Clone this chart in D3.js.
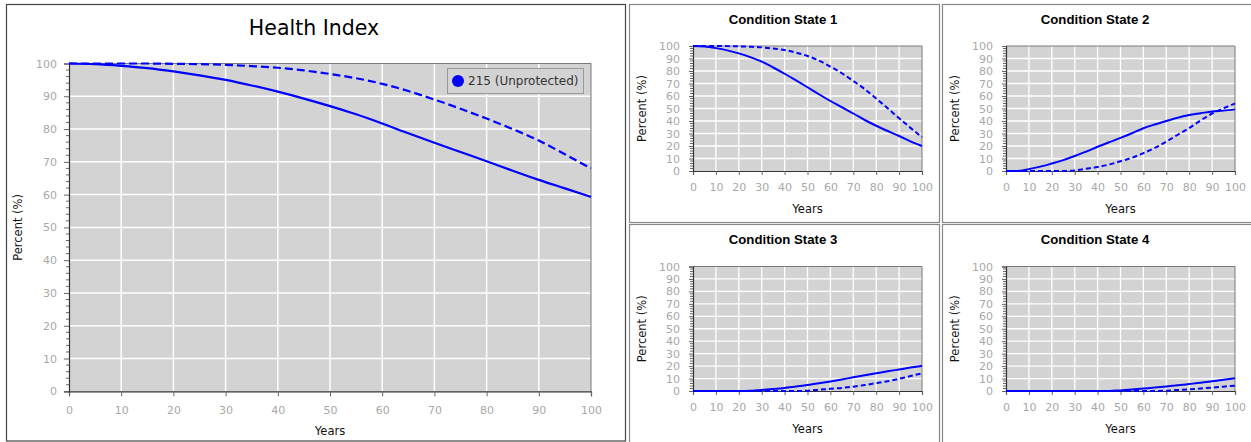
<!DOCTYPE html>
<html>
<head>
<meta charset="utf-8">
<script src="https://cdn.jsdelivr.net/npm/d3@7"></script>
<style>
html,body{margin:0;padding:0;background:#fff;}
svg{display:block;}
text{font-family:"DejaVu Sans",Verdana,sans-serif;}
</style>
</head>
<body>
<svg id="chart" width="1251" height="442"></svg>
<script>
// ---------- data ----------
const years = [0,5,10,15,20,25,30,35,40,45,50,55,60,65,70,75,80,85,90,95,100];
const xTicks = [0,10,20,30,40,50,60,70,80,90,100];
const yTicks = [0,10,20,30,40,50,60,70,80,90,100];
const legendLabel = "215 (Unprotected)";

const hiSolid  = [100,99.8,99.3,98.6,97.6,96.4,95.0,93.3,91.4,89.3,87.0,84.5,81.7,78.7,75.8,73.0,70.2,67.3,64.5,61.9,59.3];
const hiDashed = [100,100,100,100,99.9,99.8,99.6,99.2,98.7,97.9,96.8,95.5,93.8,91.6,89.0,86.2,83.2,80.0,76.5,72.3,68.0];

const cs1Solid  = [100,99.6,98.3,96.5,94.1,91.1,87.5,82.8,77.8,72.5,67.0,61.4,56.0,51.0,46.0,40.8,36.2,32.0,28.0,23.7,20.0];
const cs1Dashed = [100,100,100,99.9,99.7,99.4,98.9,98.0,96.8,94.7,92.0,88.3,83.5,78.2,72.0,65.5,58.0,50.2,42.2,34.5,27.0];

const cs2Solid  = [0,0,1.5,3.5,6.0,8.7,12.0,15.5,19.4,23.0,26.5,30.2,34.2,37.2,40.0,42.6,44.8,46.2,47.6,48.3,49.3];
const cs2Dashed = [0,0,0,0,0,0,0.5,1.8,3.2,5.2,7.8,10.6,14.3,18.5,23.5,29.0,34.3,40.5,46.0,50.2,54.0];

const cs3Solid  = [0,0,0,0,0,0.2,0.8,1.6,2.5,3.6,4.8,6.2,7.7,9.3,11.0,12.6,14.2,15.8,17.3,18.8,20.2];
const cs3Dashed = [0,0,0,0,0,0,0,0,0,0,0.3,1.0,1.8,2.5,3.5,4.8,6.3,7.8,9.8,12.0,14.2];

const cs4Solid  = [0,0,0,0,0,0,0,0,0,0,0.5,1.2,2.0,2.8,3.7,4.6,5.6,6.6,7.8,9.0,10.3];
const cs4Dashed = [0,0,0,0,0,0,0,0,0,0,0,0,0,0,0.3,0.8,1.3,2.0,2.7,3.5,4.3];

// ---------- drawing ----------
const svg = d3.select("#chart");
const BLUE = "#0000ff";

function panelBox(x0,y0,x1,y1,color){
  svg.append("rect").attr("x",x0).attr("y",y0).attr("width",x1-x0).attr("height",y1-y0)
    .attr("fill","#fff").attr("stroke",color).attr("stroke-width",1.2);
}

function drawChart(opt){
  const g = svg.append("g");
  const x = d3.scaleLinear().domain([0,100]).range([opt.x0,opt.x1]);
  const y = d3.scaleLinear().domain([0,100]).range([opt.y1,opt.y0]);
  g.append("rect").attr("x",opt.x0).attr("y",opt.y0).attr("width",opt.x1-opt.x0).attr("height",opt.y1-opt.y0)
    .attr("fill","#d3d3d3");
  g.append("g").selectAll("line").data(xTicks.slice(1,-1)).join("line")
    .attr("x1",d=>x(d)).attr("x2",d=>x(d)).attr("y1",opt.y0).attr("y2",opt.y1)
    .attr("stroke","#fff").attr("stroke-width",opt.gw);
  g.append("g").selectAll("line").data(yTicks.slice(1,-1)).join("line")
    .attr("y1",d=>y(d)).attr("y2",d=>y(d)).attr("x1",opt.x0).attr("x2",opt.x1)
    .attr("stroke","#fff").attr("stroke-width",opt.gw);
  g.append("path").attr("d",`M${opt.x0},${opt.y0}H${opt.x1}V${opt.y1}`)
    .attr("fill","none").attr("stroke","#7a7a7a").attr("stroke-width",1);
  const xa = g.append("g").attr("transform",`translate(0,${opt.y1})`)
    .call(d3.axisBottom(x).tickValues(xTicks).tickSize(opt.tick).tickPadding(opt.xpad).tickFormat(d3.format("d")));
  const ya = g.append("g").attr("transform",`translate(${opt.x0},0)`)
    .call(d3.axisLeft(y).tickValues(yTicks).tickSize(opt.tick).tickPadding(opt.ypad).tickFormat(d3.format("d")));
  g.append("g").selectAll("line").data(d3.range(0,101,2).filter(v=>v%10!==0)).join("line")
    .attr("x1",opt.x0-3).attr("x2",opt.x0).attr("y1",d=>y(d)).attr("y2",d=>y(d))
    .attr("stroke","#666").attr("stroke-width",1);
  [xa,ya].forEach(a=>{
    a.select(".domain").attr("stroke","#333").attr("stroke-width",1.2);
    a.selectAll(".tick line").attr("stroke","#666");
    a.selectAll(".tick text").attr("fill","#a8a8a8").style("font-size",opt.fs+"px")
      .style("font-family","'DejaVu Sans',Verdana,sans-serif");
  });
  const line = d3.line().x((d,i)=>x(years[i])).y(d=>y(d)).curve(d3.curveMonotoneX);
  g.append("path").datum(opt.solid).attr("d",line).attr("fill","none")
    .attr("stroke",BLUE).attr("stroke-width",opt.lw).attr("stroke-linejoin","round");
  g.append("path").datum(opt.dashed).attr("d",line).attr("fill","none")
    .attr("stroke",BLUE).attr("stroke-width",opt.lw).attr("stroke-dasharray",opt.dash);
  g.append("text").attr("x",opt.tx).attr("y",opt.ty).attr("text-anchor","middle")
    .style("font-size",opt.tfs+"px").style("font-weight",opt.tbold?"bold":"normal")
    .style("font-family",opt.tfont).attr("fill","#000").text(opt.title);
  g.append("text").attr("x",(opt.x0+opt.x1)/2).attr("y",opt.y1+opt.yearsDy).attr("text-anchor","middle")
    .style("font-size",opt.lfs+"px").attr("fill","#111").text("Years");
  g.append("text").attr("transform",`translate(${opt.px},${(opt.y0+opt.y1)/2}) rotate(-90)`)
    .attr("text-anchor","middle").attr("dy","0.35em")
    .style("font-size",opt.lfs+"px").attr("fill","#111").text("Percent (%)");
  return {g,x,y};
}

panelBox(6.5,4.5,625.5,441,"#444");
panelBox(629.5,4.5,939.5,222.5,"#888");
panelBox(942.5,4.5,1252,222.5,"#888");
panelBox(629.5,224.5,939.5,444,"#888");
panelBox(942.5,224.5,1252,444,"#888");

const main = drawChart({x0:69,x1:591,y0:63.5,y1:391.3,gw:1.5,tick:5,xpad:10,ypad:7,fs:11,lw:2.2,dash:"8,4",
  solid:hiSolid,dashed:hiDashed,title:"Health Index",tx:314,ty:35,tfs:20.5,tbold:false,
  tfont:"'DejaVu Sans',Verdana,sans-serif",lfs:11.5,yearsDy:44,px:18});

const lg = main.g.append("g");
lg.append("rect").attr("x",447.5).attr("y",68.5).attr("width",136).attr("height",25)
  .attr("fill","#d3d3d3").attr("stroke","#999").attr("stroke-width",1);
lg.append("circle").attr("cx",458).attr("cy",81).attr("r",6).attr("fill",BLUE);
lg.append("text").attr("x",468).attr("y",81).attr("dy","0.36em").style("font-size","12px")
  .attr("fill","#333").text(legendLabel);

const small = [
  {title:"Condition State 1",solid:cs1Solid,dashed:cs1Dashed,x0:693,x1:922,y0:46,y1:171,tx:783,ty:24,px:642},
  {title:"Condition State 2",solid:cs2Solid,dashed:cs2Dashed,x0:1006,x1:1235,y0:46,y1:171,tx:1095,ty:24,px:955},
  {title:"Condition State 3",solid:cs3Solid,dashed:cs3Dashed,x0:693,x1:922,y0:266.5,y1:391,tx:783,ty:244,px:642},
  {title:"Condition State 4",solid:cs4Solid,dashed:cs4Dashed,x0:1006,x1:1235,y0:266.5,y1:391,tx:1095,ty:244,px:955}
];
small.forEach(s=>{
  drawChart(Object.assign({gw:1.3,tick:4,xpad:8,ypad:9,fs:11,lw:2,dash:"5,3",tfs:13.2,tbold:true,
    tfont:"'Liberation Sans',Arial,sans-serif",lfs:11.5,yearsDy:42},s));
});
</script>
</body>
</html>
